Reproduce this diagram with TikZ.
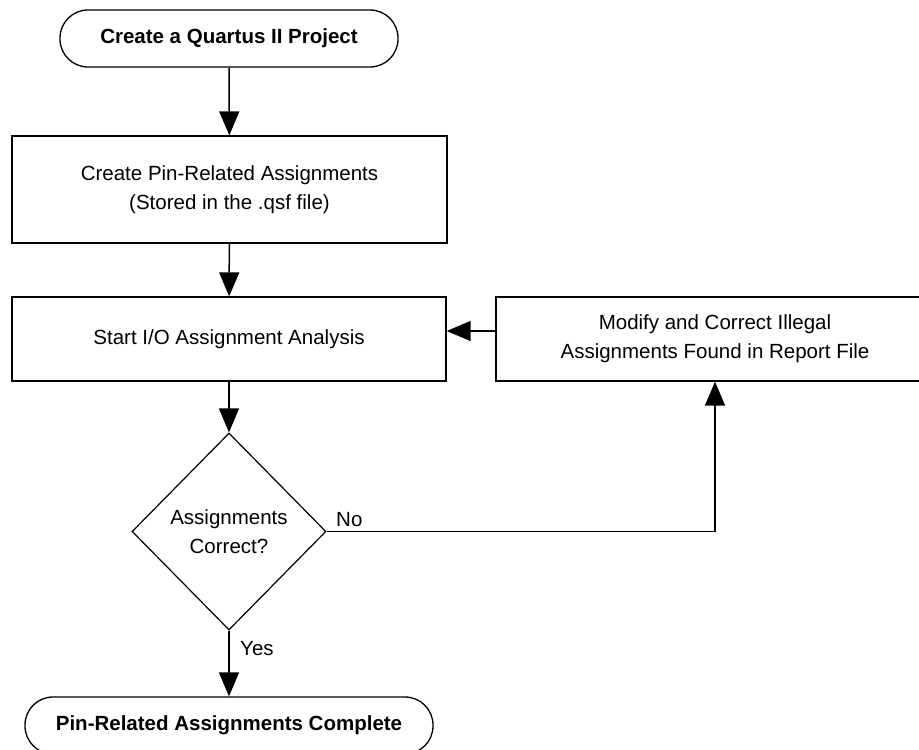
\documentclass[tikz,border=0pt]{standalone}
\usepackage{fontspec}
\setmainfont{Liberation Sans}
\usetikzlibrary{shapes.geometric,arrows.meta}
\newcommand\fsz{\fontsize{20.5bp}{29bp}\selectfont}
\begin{document}
\begin{tikzpicture}[x=1bp,y=-1bp,
  procbox/.style={draw, line width=1.3bp, minimum width=435bp, minimum height=85bp, align=center, inner sep=0pt, font=\fsz},
  termbox/.style={draw, line width=1.3bp, rounded corners=28bp, minimum width=338bp, minimum height=57bp, inner sep=0pt, font=\fsz\bfseries},
  decbox/.style={diamond, draw, line width=1.2bp, minimum width=194bp, minimum height=197bp, inner sep=0pt, align=center, font=\fsz},
  arr/.style={-{Triangle[length=24bp,width=20bp]}, line width=1.5bp},
  lbl/.style={anchor=base west, inner sep=0pt, font=\fsz}]
\useasboundingbox (0,0) rectangle (919,750);
\clip (0,0) rectangle (919,750);
\node[termbox] (t1) at (229,38.5) {Create a Quartus II Project};
\node[procbox, minimum height=107bp] (b1) at (229.5,189.5) {Create Pin-Related Assignments\\(Stored in the .qsf file)};
\node[procbox, minimum width=434bp, minimum height=84bp] (b2) at (229,339) {Start I/O Assignment Analysis};
\node[procbox, minimum width=438bp, minimum height=84bp] (b3) at (715,339) {Modify and Correct Illegal\\Assignments Found in Report File};
\node[decbox] (d) at (229,531.5) {Assignments\\Correct?};
\node[termbox, minimum width=408bp] (t2) at (229,725.5) {Pin-Related Assignments Complete};
\draw[arr] (t1) -- (b1);
\draw[arr] (b1) -- (b2);
\draw[arr] ([yshift=8bp]b3.west) -- ([yshift=8bp]b2.east);
\draw[arr] (b2) -- (d);
\draw[arr] (d) -- (t2);
\draw[arr] (d.east) -| (b3.south);
\node[lbl] (no) at (336,526) {No};
\node[lbl] (yes) at (240,655) {Yes};
\end{tikzpicture}
\end{document}
